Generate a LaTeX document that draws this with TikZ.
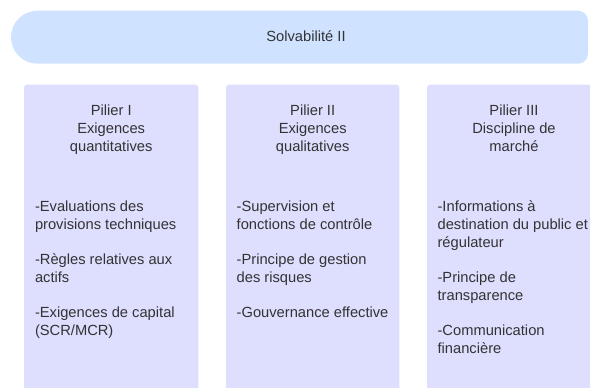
\documentclass[tikz,border=0pt]{standalone}
\usepackage{fontspec}
\setmainfont{Liberation Sans}
\definecolor{bannerblue}{HTML}{CFE2FF}
\definecolor{pillar}{HTML}{DEDEFF}
\definecolor{txt}{HTML}{333333}
\begin{document}
\begin{tikzpicture}[x=1pt,y=-1pt,
  pillarbox/.style={fill=pillar,draw=none,rounded corners=3pt},
  ttl/.style={anchor=base,inner sep=0pt,text=txt,font=\fontsize{14.7}{17.65}\selectfont},
  bodyline/.style={anchor=base west,inner sep=0pt,text=txt,font=\fontsize{14.7}{17.65}\selectfont}]
\useasboundingbox (0,0) rectangle (590,388);
\clip (0,0) rectangle (590,388);
% banner
\fill[bannerblue] (37.5,10.7) -- (578,10.7) arc[start angle=-90,end angle=0,radius=10] -- (588,53.7) arc[start angle=0,end angle=90,radius=10] -- (37.5,63.7) arc[start angle=90,end angle=270,radius=26.5] -- cycle;
\node[ttl] (banner) at (306,41.7) {Solvabilité II};
% pillars
\path[pillarbox] (24,84.7) rectangle (198.3,400);
\path[pillarbox] (226,84.7) rectangle (399.3,400);
\path[pillarbox] (427,84.7) rectangle (601,400);
% titles
\node[ttl] (t1a) at (111.2,115.8) {Pilier I};
\node[ttl] (t1b) at (111.2,133.5) {Exigences};
\node[ttl] (t1c) at (111.2,151.1) {quantitatives};
\node[ttl] (t2a) at (312.7,115.8) {Pilier II};
\node[ttl] (t2b) at (312.7,133.5) {Exigences};
\node[ttl] (t2c) at (312.7,151.1) {qualitatives};
\node[ttl] (t3a) at (514,115.8) {Pilier III};
\node[ttl] (t3b) at (514,133.5) {Discipline de};
\node[ttl] (t3c) at (514,151.1) {marché};
% bodies
\node[bodyline] (b1a) at (34.8,211.8) {-Evaluations des};
\node[bodyline] (b1b) at (34.8,229.45) {provisions techniques};
\node[bodyline] (b1c) at (34.8,264.75) {-Règles relatives aux};
\node[bodyline] (b1d) at (34.8,282.4) {actifs};
\node[bodyline] (b1e) at (34.8,317.7) {-Exigences de capital};
\node[bodyline] (b1f) at (34.8,335.35) {(SCR/MCR)};
\node[bodyline] (b2a) at (236.5,211.8) {-Supervision et};
\node[bodyline] (b2b) at (236.5,229.45) {fonctions de contrôle};
\node[bodyline] (b2c) at (236.5,264.75) {-Principe de gestion};
\node[bodyline] (b2d) at (236.5,282.4) {des risques};
\node[bodyline] (b2e) at (236.5,317.7) {-Gouvernance effective};
\node[bodyline] (b3a) at (437.4,211.8) {-Informations à};
\node[bodyline] (b3b) at (437.4,229.45) {destination du public et};
\node[bodyline] (b3c) at (437.4,247.1) {régulateur};
\node[bodyline] (b3d) at (437.4,282.4) {-Principe de};
\node[bodyline] (b3e) at (437.4,300.05) {transparence};
\node[bodyline] (b3f) at (437.4,335.35) {-Communication};
\node[bodyline] (b3g) at (437.4,353) {financière};
\end{tikzpicture}
\end{document}
